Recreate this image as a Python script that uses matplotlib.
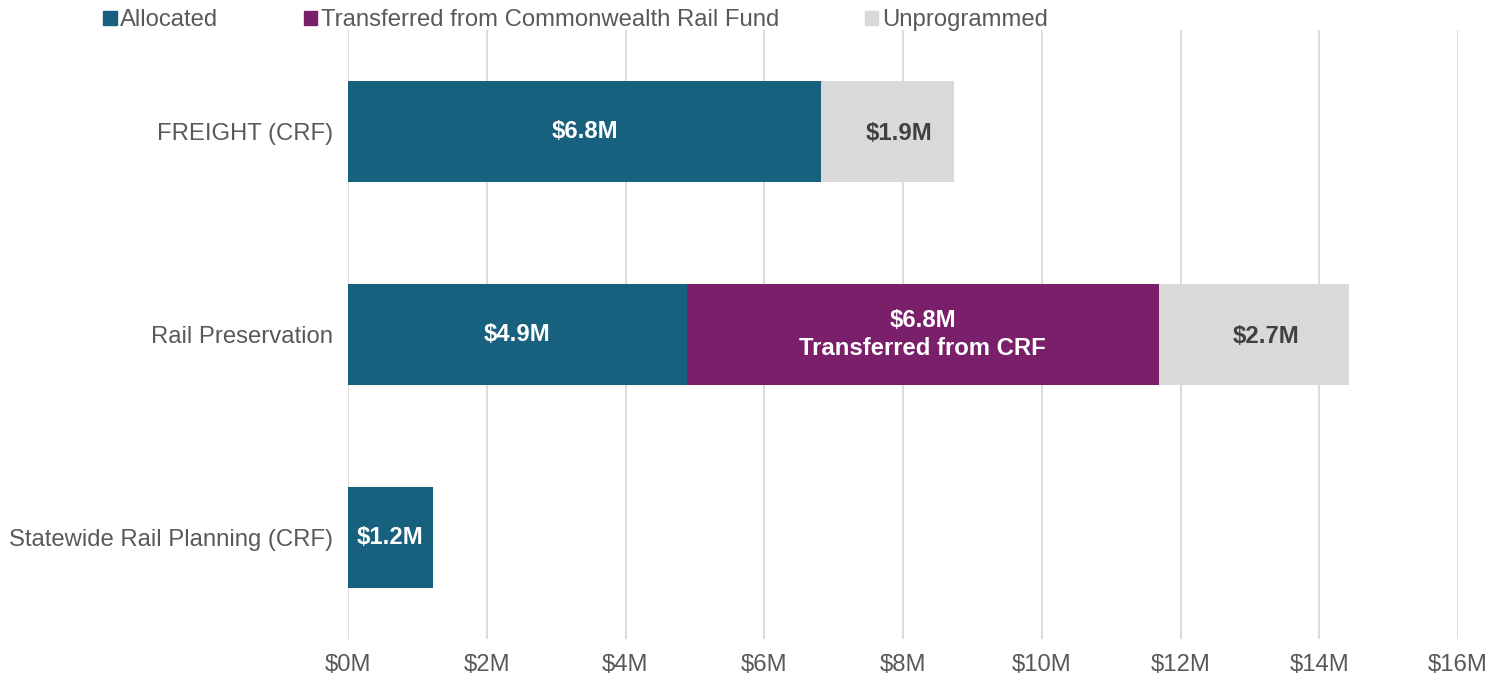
import numpy as np
import matplotlib.pyplot as plt
from matplotlib.patches import Patch

plt.rcParams['font.family'] = ['Liberation Sans', 'Arial', 'DejaVu Sans']

# Дані
categories = ['FREIGHT (CRF)', 'Rail Preservation', 'Statewide Rail Planning (CRF)']
allocated = [6.82, 4.88, 1.22]
transferred = [0, 6.81, 0]
unprogrammed = [1.91, 2.74, 0]
series_names = ['Allocated', 'Transferred from Commonwealth Rail Fund', 'Unprogrammed']
ticks = [0, 2, 4, 6, 8, 10, 12, 14, 16]

c_alloc = '#17617f'
c_trans = '#7a1f6a'
c_unprog = '#d9d9d9'
grey_txt = '#595959'
fs = 17.2

fig = plt.figure(figsize=(14.9, 6.81), dpi=100)
ax = fig.add_axes([348 / 1490, 1 - 639 / 681, 1110 / 1490, 609 / 681])

y = np.arange(len(categories))
ax.barh(y, allocated, height=0.5, color=c_alloc, zorder=3)
ax.barh(y, transferred, left=allocated, height=0.5, color=c_trans, zorder=3)
left2 = np.array(allocated) + np.array(transferred)
ax.barh(y, unprogrammed, left=left2, height=0.5, color=c_unprog, zorder=3)

# Підписи на сегментах
for i in range(len(categories)):
    if allocated[i] > 0:
        ax.text(allocated[i] / 2, y[i], '$' + str(round(allocated[i], 1)) + 'M',
                ha='center', va='center', color='white', fontsize=fs, fontweight='bold', zorder=4)
    if transferred[i] > 0:
        ax.text(allocated[i] + transferred[i] / 2, y[i],
                '$' + str(round(transferred[i], 1)) + 'M\nTransferred from CRF',
                ha='center', va='center', color='white', fontsize=fs, fontweight='bold',
                linespacing=1.3, zorder=4)
    if unprogrammed[i] > 0:
        ax.text(left2[i] + unprogrammed[i] / 2 + 0.17, y[i] + 0.01,
                '$' + str(round(unprogrammed[i], 1)) + 'M',
                ha='center', va='center', color='#404040', fontsize=fs, fontweight='bold', zorder=4)

ax.set_xlim(0, 16)
ax.set_ylim(len(categories) - 0.5, -0.5)
ax.set_xticks(ticks)
ax.set_xticklabels(['$' + str(t) + 'M' for t in ticks])
ax.set_yticks(y)
ax.set_yticklabels(categories)
ax.tick_params(axis='both', length=0, labelsize=fs, colors=grey_txt)
ax.tick_params(axis='x', pad=11)
ax.tick_params(axis='y', pad=11)
ax.xaxis.grid(True, color='#d9d9d9', linewidth=1.3, zorder=0)
ax.set_axisbelow(True)
for s in ax.spines.values():
    s.set_visible(False)

handles = [Patch(color=c_alloc), Patch(color=c_trans), Patch(color=c_unprog)]
fig.legend(handles, series_names, loc='upper left', bbox_to_anchor=(101 / 1490, 1 - 7 / 681),
           ncol=3, frameon=False, fontsize=fs, labelcolor=grey_txt,
           handlelength=0.55, handleheight=0.55, handletextpad=0.15,
           columnspacing=3.6, borderpad=0.1, borderaxespad=0.0)

fig.savefig('out.png', dpi=100)
plt.close()
